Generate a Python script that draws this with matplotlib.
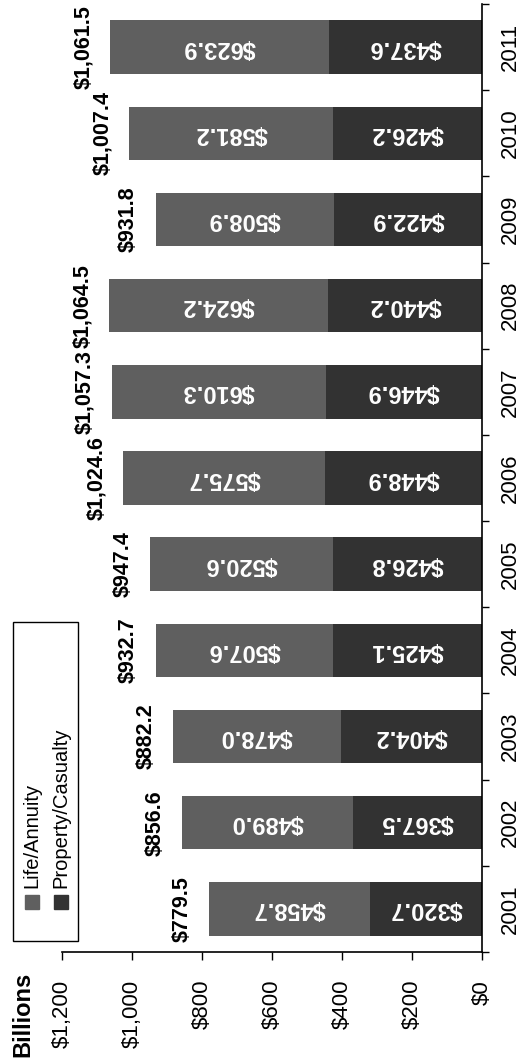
import matplotlib
matplotlib.use("Agg")
import matplotlib.pyplot as plt
import numpy as np
from matplotlib.patches import Rectangle
from matplotlib.ticker import FuncFormatter

plt.rcParams['font.family'] = ['Liberation Sans', 'DejaVu Sans']

# premiums, billions of dollars
years = [2001, 2002, 2003, 2004, 2005, 2006, 2007, 2008, 2009, 2010, 2011]
property_casualty = [320.7, 367.5, 404.2, 425.1, 426.8, 448.9, 446.9, 440.2, 422.9, 426.2, 437.6]
life_annuity = [458.7, 489.0, 478.0, 507.6, 520.6, 575.7, 610.3, 624.2, 508.9, 581.2, 623.9]
totals = [779.5, 856.6, 882.2, 932.7, 947.4, 1024.6, 1057.3, 1064.5, 931.8, 1007.4, 1061.5]
series_names = ['Life/Annuity', 'Property/Casualty']

W, H = 521, 1064
dark = '#323232'
mid = '#5f5f5f'


def px(x, y):
    # figure fraction from pixel position measured from the top-left
    return x / W, 1 - y / H


fig = plt.figure(figsize=(W / 100, H / 100), dpi=100)
ax = fig.add_axes([62 / W, (H - 952) / H, 420 / W, 948 / H])

pc = np.array(property_casualty)
la = np.array(life_annuity)
ax.barh(years, pc, height=0.62, color=dark)
ax.barh(years, la, left=pc, height=0.62, color=mid)

ax.set_xlim(1200, 0)
ax.set_ylim(years[0] - 0.5, years[-1] + 0.5)

# value axis along the bottom
ax.set_xticks(np.arange(0, 1201, 200))
ax.xaxis.set_major_formatter(FuncFormatter(lambda v, p: '${:,.0f}'.format(v)))
ax.tick_params(axis='x', direction='out', length=6, width=1, pad=14,
               labelsize=16, labelrotation=90)

# category axis on the right, ticks between the years
ax.yaxis.tick_right()
ax.set_yticks(np.arange(years[0] - 0.5, years[-1] + 1, 1))
ax.set_yticklabels([])
ax.set_yticks(years, minor=True)
ax.set_yticklabels([str(y) for y in years], minor=True)
ax.tick_params(axis='y', which='major', direction='out', length=5, width=1)
ax.tick_params(axis='y', which='minor', length=0, pad=13, labelsize=16,
               labelrotation=90)
for lbl in ax.get_yticklabels(minor=True):
    lbl.set_va('center')

for side in ['top', 'left']:
    ax.spines[side].set_visible(False)
ax.spines['bottom'].set_linewidth(1.2)
ax.spines['right'].set_linewidth(1.2)

for y, p, l, t in zip(years, pc, la, totals):
    ax.text(p / 2, y, '${:.1f}'.format(p), rotation=180, color='white',
            fontsize=17, fontweight='bold', ha='center', va='center')
    ax.text(p + l / 2, y, '${:.1f}'.format(l), rotation=180, color='white',
            fontsize=17, fontweight='bold', ha='center', va='center')
    ax.annotate('${:,.1f}'.format(t), xy=(t, y), xytext=(-12, 0),
                textcoords='offset points', rotation=90, fontsize=15.5,
                fontweight='bold', ha='right', va='center')

# unit label
fig.text(*px(23, 1057), 'Billions', rotation=90, fontsize=17,
         fontweight='bold', ha='center', va='bottom')

# legend box drawn sideways
x0, y0 = px(13, 941)
fig.add_artist(Rectangle((x0, y0), 65 / W, 319 / H, transform=fig.transFigure,
                         fill=False, ec='black', lw=1))
for name, color, cx in zip(series_names, [mid, dark], [32, 60.5]):
    mx, my = px(cx - 7, 909)
    fig.add_artist(Rectangle((mx, my), 14 / W, 14 / H,
                             transform=fig.transFigure, color=color))
    fig.text(*px(cx, 888), name, rotation=90, fontsize=14.5,
             ha='center', va='bottom')

fig.savefig('out.png', dpi=100)
